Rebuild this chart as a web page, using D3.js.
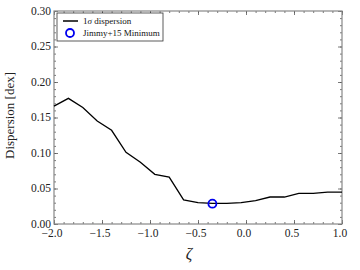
<!DOCTYPE html>
<html>
<head>
<meta charset="utf-8">
<script src="https://cdn.jsdelivr.net/npm/d3@7"></script>
<style>
  body { margin: 0; background: #fff; }
  svg text { font-family: "Liberation Serif", "DejaVu Serif", serif; }
</style>
</head>
<body>
<div id="chart"></div>
<script>
// zeta values and the 1-sigma dispersion
const zeta = [-2.0, -1.85, -1.70, -1.55, -1.40, -1.25, -1.10, -0.95, -0.80, -0.65, -0.50,
              -0.35, -0.20, -0.05, 0.10, 0.25, 0.40, 0.55, 0.70, 0.85, 1.00];
const dispersion = [0.166, 0.177, 0.164, 0.145, 0.132, 0.101, 0.087, 0.070, 0.066, 0.034, 0.030,
                    0.029, 0.029, 0.030, 0.033, 0.038, 0.038, 0.043, 0.043, 0.045, 0.045];
// Jimmy+15 minimum marker
const minPoint = {zeta: -0.35, disp: 0.0286};

const xTicks = [-2.0, -1.5, -1.0, -0.5, 0.0, 0.5, 1.0];
const yTicks = [0.00, 0.05, 0.10, 0.15, 0.20, 0.25, 0.30];
const legendLabels = ["dispersion", "Jimmy+15 Minimum"];

const width = 360, height = 270;
const margin = {top: 11, right: 18, bottom: 46, left: 54};
const w = width - margin.left - margin.right;
const h = height - margin.top - margin.bottom;

const svg = d3.select("#chart").append("svg")
    .attr("width", width)
    .attr("height", height);

const g = svg.append("g")
    .attr("transform", `translate(${margin.left},${margin.top})`);

const x = d3.scaleLinear().domain([-2, 1]).range([0, w]);
const y = d3.scaleLinear().domain([0, 0.30]).range([h, 0]);

const fmt = d3.format(".2f");
const fmtX = d3.format(".1f");
const minus = s => s.replace("-", "\u2212");

// minor ticks (inside, all four sides)
const xMinor = d3.range(-20, 11).map(i => i / 10);
const yMinor = d3.range(0, 31).map(i => i / 100);

function tickStyle(sel) {
  sel.select(".domain").remove();
  sel.selectAll("line").attr("stroke", "#555").attr("stroke-width", 0.8);
}

// bottom
g.append("g").attr("transform", `translate(0,${h})`)
  .call(d3.axisTop(x).tickValues(xMinor).tickSize(2).tickFormat(""))
  .call(tickStyle);
g.append("g").attr("transform", `translate(0,${h})`)
  .call(d3.axisTop(x).tickValues(xTicks).tickSize(4).tickFormat(""))
  .call(tickStyle);
// top
g.append("g")
  .call(d3.axisBottom(x).tickValues(xMinor).tickSize(2).tickFormat(""))
  .call(tickStyle);
g.append("g")
  .call(d3.axisBottom(x).tickValues(xTicks).tickSize(4).tickFormat(""))
  .call(tickStyle);
// left
g.append("g")
  .call(d3.axisRight(y).tickValues(yMinor).tickSize(2).tickFormat(""))
  .call(tickStyle);
g.append("g")
  .call(d3.axisRight(y).tickValues(yTicks).tickSize(4).tickFormat(""))
  .call(tickStyle);
// right
g.append("g").attr("transform", `translate(${w},0)`)
  .call(d3.axisLeft(y).tickValues(yMinor).tickSize(2).tickFormat(""))
  .call(tickStyle);
g.append("g").attr("transform", `translate(${w},0)`)
  .call(d3.axisLeft(y).tickValues(yTicks).tickSize(4).tickFormat(""))
  .call(tickStyle);

// tick labels
g.selectAll(".xlab").data(xTicks).enter().append("text")
  .attr("x", d => x(d) - 2)
  .attr("y", h + 13)
  .attr("text-anchor", "middle")
  .attr("font-size", 11.5)
  .attr("fill", "#222")
  .text(d => minus(fmtX(d)));

g.selectAll(".ylab").data(yTicks).enter().append("text")
  .attr("x", -3)
  .attr("y", d => y(d) + 3.5)
  .attr("text-anchor", "end")
  .attr("font-size", 11.5)
  .attr("fill", "#222")
  .text(d => fmt(d));

// frame
g.append("rect")
  .attr("width", w).attr("height", h)
  .attr("fill", "none")
  .attr("stroke", "#888")
  .attr("stroke-width", 1.2);

// dispersion line
const line = d3.line()
  .x((d, i) => x(zeta[i]))
  .y(d => y(d));

g.append("path")
  .datum(dispersion)
  .attr("d", line)
  .attr("fill", "none")
  .attr("stroke", "#000")
  .attr("stroke-width", 1.3);

// minimum marker
g.append("circle")
  .attr("cx", x(minPoint.zeta))
  .attr("cy", y(minPoint.disp))
  .attr("r", 4)
  .attr("fill", "none")
  .attr("stroke", "#0000ee")
  .attr("stroke-width", 1.8);

// legend
const leg = g.append("g").attr("transform", "translate(3,2)");
leg.append("rect")
  .attr("width", 106).attr("height", 28)
  .attr("fill", "#fff")
  .attr("stroke", "#333")
  .attr("stroke-width", 0.8);
leg.append("line")
  .attr("x1", 6).attr("x2", 21)
  .attr("y1", 8).attr("y2", 8)
  .attr("stroke", "#000").attr("stroke-width", 1.5);
leg.append("circle")
  .attr("cx", 13).attr("cy", 20).attr("r", 4)
  .attr("fill", "none").attr("stroke", "#0000ee").attr("stroke-width", 1.8);
const lt = leg.selectAll(".lt").data(legendLabels).enter().append("text")
  .attr("x", 26)
  .attr("y", (d, i) => 11 + i * 12)
  .attr("font-size", 9)
  .attr("fill", "#111");
lt.filter((d, i) => i === 0).append("tspan").text("1");
lt.filter((d, i) => i === 0).append("tspan").attr("font-style", "italic").text("\u03c3 ");
lt.append("tspan").text(d => d);

// axis labels
svg.append("text")
  .attr("transform", `translate(14,${margin.top + h / 2 - 2}) rotate(-90)`)
  .attr("text-anchor", "middle")
  .attr("font-size", 13)
  .attr("fill", "#222")
  .text("Dispersion [dex]");

svg.append("text")
  .attr("x", 189)
  .attr("y", 259)
  .attr("text-anchor", "middle")
  .attr("font-size", 16)
  .attr("font-style", "italic")
  .attr("fill", "#222")
  .text("\u03b6");
</script>
</body>
</html>
